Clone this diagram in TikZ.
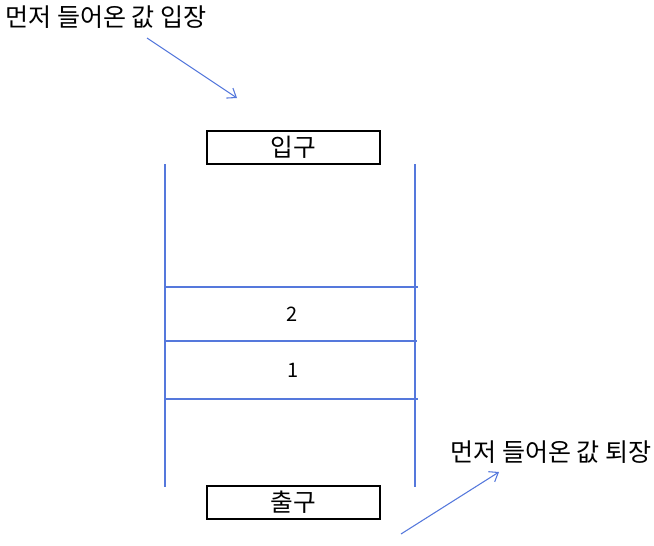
\documentclass[tikz,border=0pt]{standalone}
\usepackage{fontspec}
\setmainfont{Noto Sans CJK KR}
\usetikzlibrary{arrows.meta, positioning}

\definecolor{lineblue}{RGB}{85,120,220}

\begin{document}
\begin{tikzpicture}[
    x=0.75pt, y=-0.75pt,
    gate/.style={draw, line width=1.5pt, minimum width=173*0.75pt, minimum height=33*0.75pt, inner sep=0pt, font=\fontsize{18.5}{20}\selectfont},
    note/.style={font=\fontsize{18.8}{22}\selectfont, inner sep=0pt},
    cell/.style={font=\fontsize{15}{18}\selectfont, inner sep=0pt},
    wall/.style={lineblue, line width=0.8pt},
    arrow/.style={lineblue, line width=0.8pt, -{Straight Barb[length=6pt, width=9pt]}}
]
    \useasboundingbox (0,0) rectangle (654,546);

    \node[note, anchor=west] (innote) at (5,17) {먼저 들어온 값 입장};
    \node[note, anchor=west] (outnote) at (450,452) {먼저 들어온 값 퇴장};

    \node[gate] (entry) at (293.5,147.5) {입구};
    \node[gate] (exit) at (293.5,502.5) {출구};

    \coordinate (lt) at (165,164);
    \coordinate (lb) at (165,487);
    \coordinate (rt) at (415,164);
    \coordinate (rb) at (415,487);
    \draw[wall] (lt) -- (lb);
    \draw[wall] (rt) -- (rb);

    \coordinate (s1l) at (165,287);
    \coordinate (s1r) at (418,287);
    \coordinate (s2l) at (165,341);
    \coordinate (s2r) at (417,341);
    \coordinate (s3l) at (165,399);
    \coordinate (s3r) at (418,399);
    \draw[wall] (s1l) -- (s1r);
    \draw[wall] (s2l) -- (s2r);
    \draw[wall] (s3l) -- (s3r);

    \node[cell] (two) at (292,314) {2};
    \node[cell] (one) at (293,370) {1};

    \coordinate (ina) at (147,38);
    \coordinate (inb) at (237,98);
    \coordinate (outa) at (401,534);
    \coordinate (outb) at (499,472);
    \draw[arrow] (ina) -- (inb);
    \draw[arrow] (outa) -- (outb);
\end{tikzpicture}
\end{document}
